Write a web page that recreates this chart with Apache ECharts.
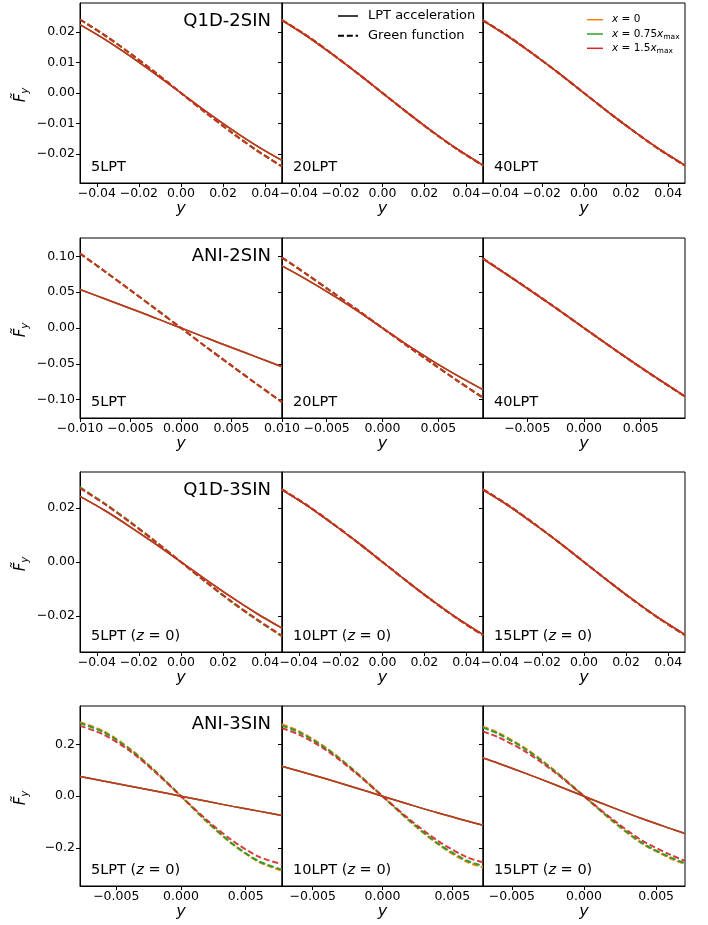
<!DOCTYPE html>
<html><head><meta charset="utf-8">
<script src="https://cdn.jsdelivr.net/npm/echarts@6/dist/echarts.min.js"></script>
<style>html,body{margin:0;padding:0;background:#fff}#c{width:708px;height:925px}</style>
</head><body><div id="c"></div>
<script>
// ---------------- DATA ----------------
const COLORS = ['#ff7f0e', '#2ca02c', '#d62728'];
const LINE_OPACITY = [1, 1, 0.9];
const LEGEND_STYLE = ['LPT acceleration', 'Green function'];

// Row 1: Q1D-2SIN  (y samples)
const yR1 = [-0.048, -0.036, -0.024, -0.012, 0, 0.012, 0.024, 0.036, 0.048];
const q1d2_5_lpt  = [0.0224, 0.0175, 0.0120, 0.0061, 0, -0.0061, -0.0119, -0.0173, -0.0221];
const q1d2_5_gf   = [0.0241, 0.0188, 0.0129, 0.0066, 0, -0.0066, -0.0129, -0.0188, -0.0241];
const q1d2_20_lpt = [0.0238, 0.0186, 0.0127, 0.0065, 0, -0.0065, -0.0127, -0.0185, -0.0237];
const q1d2_20_gf  = [0.0239, 0.0187, 0.0128, 0.0065, 0, -0.0065, -0.0128, -0.0186, -0.0238];
const q1d2_40_lpt = [0.0237, 0.0185, 0.0127, 0.0065, 0, -0.0065, -0.0127, -0.0185, -0.0237];
const q1d2_40_gf  = [0.0238, 0.0186, 0.0127, 0.0065, 0, -0.0065, -0.0127, -0.0186, -0.0238];

// Row 2: ANI-2SIN
const yR2a = [-0.010, -0.0075, -0.005, -0.0025, 0, 0.0025, 0.005, 0.0075, 0.010];
const yR2b = [-0.009, -0.00675, -0.0045, -0.00225, 0, 0.00225, 0.0045, 0.00675, 0.009];
const yR2c = [-0.0089, -0.006, -0.003, 0, 0.003, 0.006, 0.0089];
const ani2_5_lpt  = [0.0536, 0.0405, 0.0272, 0.0137, 0, -0.0137, -0.0272, -0.0406, -0.0540];
const ani2_5_gf   = [0.1039, 0.0785, 0.0527, 0.0265, 0, -0.0265, -0.0525, -0.0782, -0.1034];
const ani2_20_lpt = [0.0866, 0.0672, 0.0463, 0.0240, 0, -0.0240, -0.0462, -0.0668, -0.0860];
const ani2_20_gf  = [0.0983, 0.0745, 0.0500, 0.0252, 0, -0.0252, -0.0497, -0.0740, -0.0972];
const ani2_40_lpt = [0.0965, 0.0660, 0.0335, 0, -0.0333, -0.0655, -0.0954];
const ani2_40_gf  = [0.0969, 0.0662, 0.0336, 0, -0.0334, -0.0657, -0.0956];

// Row 3: Q1D-3SIN
const yR3 = [-0.048, -0.036, -0.024, -0.012, 0, 0.012, 0.024, 0.036, 0.048];
const q1d3_5_lpt    = [0.0242, 0.0189, 0.0129, 0.0066, 0, -0.0066, -0.0130, -0.0190, -0.0244];
const q1d3_5_gf     = [0.0275, 0.0214, 0.0147, 0.0075, 0, -0.0075, -0.0147, -0.0213, -0.0274];
const q1d3_5_gf_red = [0.0272, 0.0212, 0.0145, 0.0074, 0, -0.0074, -0.0145, -0.0211, -0.0272];
const q1d3_10_lpt   = [0.0266, 0.0208, 0.0142, 0.0073, 0, -0.0073, -0.0143, -0.0209, -0.0268];
const q1d3_10_gf    = [0.0268, 0.0209, 0.0143, 0.0073, 0, -0.0073, -0.0144, -0.0210, -0.0270];
const q1d3_15_lpt   = [0.0266, 0.0208, 0.0142, 0.0073, 0, -0.0073, -0.0143, -0.0209, -0.0268];
const q1d3_15_gf    = [0.0268, 0.0209, 0.0143, 0.0073, 0, -0.0073, -0.0144, -0.0210, -0.0270];

// Row 4: ANI-3SIN (three x positions: 0, 0.75xmax, 1.5xmax)
const yR4a = [-0.0078, -0.006, -0.004, -0.002, 0, 0.002, 0.004, 0.006, 0.0078];
const yR4b = [-0.0072, -0.006, -0.004, -0.002, 0, 0.002, 0.004, 0.006, 0.0072];
const yR4c = [-0.0070, -0.006, -0.004, -0.002, 0, 0.002, 0.004, 0.006, 0.0070];
const ani3_5_lpt   = [0.076, 0.0585, 0.0395, 0.020, 0, -0.0198, -0.0392, -0.0575, -0.074];
const ani3_5_gf_o  = [0.285, 0.251, 0.185, 0.098, 0, -0.099, -0.186, -0.253, -0.287];
const ani3_5_gf_g  = [0.281, 0.247, 0.182, 0.096, 0, -0.097, -0.184, -0.250, -0.283];
const ani3_5_gf_r  = [0.271, 0.238, 0.176, 0.093, 0, -0.092, -0.172, -0.233, -0.262];
const ani3_10_lpt  = [0.115, 0.097, 0.066, 0.0335, 0, -0.033, -0.065, -0.0945, -0.112];
const ani3_10_gf_o = [0.277, 0.251, 0.185, 0.098, 0, -0.099, -0.186, -0.252, -0.274];
const ani3_10_gf_g = [0.272, 0.247, 0.182, 0.096, 0, -0.097, -0.183, -0.247, -0.268];
const ani3_10_gf_r = [0.262, 0.238, 0.176, 0.093, 0, -0.092, -0.173, -0.234, -0.255];
const ani3_15_lpt  = [0.147, 0.128, 0.087, 0.044, 0, -0.044, -0.086, -0.125, -0.144];
const ani3_15_gf_o = [0.268, 0.246, 0.182, 0.097, 0, -0.097, -0.182, -0.240, -0.262];
const ani3_15_gf_g = [0.264, 0.242, 0.179, 0.095, 0, -0.095, -0.179, -0.236, -0.258];
const ani3_15_gf_r = [0.249, 0.229, 0.170, 0.091, 0, -0.090, -0.170, -0.226, -0.249];

// Tick values
const xTicksWide = [-0.04, -0.02, 0, 0.02, 0.04];
const xTicksR2a = [-0.010, -0.005, 0, 0.005, 0.010];
const xTicksNarrow = [-0.005, 0, 0.005];
const yTicksR1 = [-0.02, -0.01, 0, 0.01, 0.02];
const yTicksR2 = [-0.10, -0.05, 0, 0.05, 0.10];
const yTicksR3 = [-0.02, 0, 0.02];
const yTicksR4 = [-0.2, 0, 0.2];

const rowTitles = ['Q1D-2SIN', 'ANI-2SIN', 'Q1D-3SIN', 'ANI-3SIN'];

// ---------------- LAYOUT ----------------
const rowTop = [3, 238, 472, 706];
const rowH = 180;
const colLeft = [80, 282, 483];
const colW = [202, 201, 202];

const rows = [
  { yMin: -0.0295, yMax: 0.0295, yTicks: yTicksR1, yd: 2, panels: [
    { xs: yR1, xr: [-0.048, 0.048], xt: xTicksWide, xd: 2, lpt: [q1d2_5_lpt, q1d2_5_lpt, q1d2_5_lpt], gf: [q1d2_5_gf, q1d2_5_gf, q1d2_5_gf], label: '5LPT' },
    { xs: yR1, xr: [-0.048, 0.048], xt: xTicksWide, xd: 2, lpt: [q1d2_20_lpt, q1d2_20_lpt, q1d2_20_lpt], gf: [q1d2_20_gf, q1d2_20_gf, q1d2_20_gf], label: '20LPT' },
    { xs: yR1, xr: [-0.048, 0.048], xt: xTicksWide, xd: 2, lpt: [q1d2_40_lpt, q1d2_40_lpt, q1d2_40_lpt], gf: [q1d2_40_gf, q1d2_40_gf, q1d2_40_gf], label: '40LPT' } ] },
  { yMin: -0.1255, yMax: 0.1255, yTicks: yTicksR2, yd: 2, panels: [
    { xs: yR2a, xr: [-0.010, 0.010], xt: xTicksR2a, xd: 3, lpt: [ani2_5_lpt, ani2_5_lpt, ani2_5_lpt], gf: [ani2_5_gf, ani2_5_gf, ani2_5_gf], label: '5LPT' },
    { xs: yR2b, xr: [-0.009, 0.009], xt: xTicksNarrow, xd: 3, lpt: [ani2_20_lpt, ani2_20_lpt, ani2_20_lpt], gf: [ani2_20_gf, ani2_20_gf, ani2_20_gf], label: '20LPT' },
    { xs: yR2c, xr: [-0.0089, 0.0089], xt: xTicksNarrow, xd: 3, lpt: [ani2_40_lpt, ani2_40_lpt, ani2_40_lpt], gf: [ani2_40_gf, ani2_40_gf, ani2_40_gf], label: '40LPT' } ] },
  { yMin: -0.0332, yMax: 0.0332, yTicks: yTicksR3, yd: 2, panels: [
    { xs: yR3, xr: [-0.048, 0.048], xt: xTicksWide, xd: 2, lpt: [q1d3_5_lpt, q1d3_5_lpt, q1d3_5_lpt], gf: [q1d3_5_gf, q1d3_5_gf, q1d3_5_gf_red], label: '5LPT', z: true },
    { xs: yR3, xr: [-0.048, 0.048], xt: xTicksWide, xd: 2, lpt: [q1d3_10_lpt, q1d3_10_lpt, q1d3_10_lpt], gf: [q1d3_10_gf, q1d3_10_gf, q1d3_10_gf], label: '10LPT', z: true },
    { xs: yR3, xr: [-0.048, 0.048], xt: xTicksWide, xd: 2, lpt: [q1d3_15_lpt, q1d3_15_lpt, q1d3_15_lpt], gf: [q1d3_15_gf, q1d3_15_gf, q1d3_15_gf], label: '15LPT', z: true } ] },
  { yMin: -0.346, yMax: 0.3475, yTicks: yTicksR4, yd: 1, panels: [
    { xs: yR4a, xr: [-0.0078, 0.0078], xt: xTicksNarrow, xd: 3, lpt: [ani3_5_lpt, ani3_5_lpt, ani3_5_lpt], gf: [ani3_5_gf_o, ani3_5_gf_g, ani3_5_gf_r], label: '5LPT', z: true },
    { xs: yR4b, xr: [-0.0072, 0.0072], xt: xTicksNarrow, xd: 3, lpt: [ani3_10_lpt, ani3_10_lpt, ani3_10_lpt], gf: [ani3_10_gf_o, ani3_10_gf_g, ani3_10_gf_r], label: '10LPT', z: true },
    { xs: yR4c, xr: [-0.0070, 0.0070], xt: xTicksNarrow, xd: 3, lpt: [ani3_15_lpt, ani3_15_lpt, ani3_15_lpt], gf: [ani3_15_gf_o, ani3_15_gf_g, ani3_15_gf_r], label: '15LPT', z: true } ] }
];

const FONT = 'DejaVu Sans';
function fmt(v, d) {
  const s = Math.abs(v).toFixed(d);
  return (v < -1e-12 ? '\u2212' : '') + s;
}
const mctx = document.createElement('canvas').getContext('2d');
function fontStr(size, it) { return (it ? 'italic ' : '') + size + 'px "DejaVu Sans"'; }
function measure(t, size, it) { mctx.font = fontStr(size, it); return mctx.measureText(t).width; }

const grid = [], xAxis = [], yAxis = [], series = [], graphic = [];
let idx = 0;
rows.forEach((row, r) => {
  row.panels.forEach((p, c) => {
    grid.push({ left: colLeft[c], top: rowTop[r], width: colW[c], height: rowH,
      show: true, borderColor: '#000', borderWidth: 1, backgroundColor: 'transparent', containLabel: false });
    xAxis.push({ type: 'value', gridIndex: idx, min: p.xr[0], max: p.xr[1],
      axisLine: { show: true, onZero: false, lineStyle: { color: '#000', width: 1 } },
      axisTick: { show: true, inside: false, length: 4, customValues: p.xt, lineStyle: { color: '#000' } },
      axisLabel: { show: true, customValues: p.xt, margin: 4, fontSize: 12.5, fontFamily: FONT, color: '#000',
        formatter: (v) => fmt(v, p.xd) },
      splitLine: { show: false },
      name: 'y', nameLocation: 'middle', nameGap: 17,
      nameTextStyle: { fontSize: 16, fontStyle: 'italic', fontFamily: FONT, color: '#000' } });
    yAxis.push({ type: 'value', gridIndex: idx, min: row.yMin, max: row.yMax,
      axisLine: { show: true, onZero: false, lineStyle: { color: '#000', width: 1 } },
      axisTick: { show: true, inside: false, length: 4, customValues: row.yTicks, lineStyle: { color: '#000' } },
      axisLabel: { show: c === 0, customValues: row.yTicks, margin: 5, fontSize: 12.5, fontFamily: FONT, color: '#000',
        formatter: (v) => fmt(v, row.yd) },
      splitLine: { show: false } });
    for (let k = 0; k < 3; k++) {
      series.push({ type: 'line', xAxisIndex: idx, yAxisIndex: idx, symbol: 'none', smooth: 0.3, silent: true,
        data: p.xs.map((x, i) => [x, p.lpt[k][i]]),
        lineStyle: { color: COLORS[k], width: 1.5, opacity: LINE_OPACITY[k], type: 'solid' } });
      series.push({ type: 'line', xAxisIndex: idx, yAxisIndex: idx, symbol: 'none', smooth: 0.3, silent: true,
        data: p.xs.map((x, i) => [x, p.gf[k][i]]),
        lineStyle: { color: COLORS[k], width: 2, opacity: LINE_OPACITY[k], type: [6, 2.8] } });
    }
    // bottom-left label
    graphic.push({ type: 'text', x: colLeft[c] + 11, y: rowTop[r] + 164, silent: true,
      style: { text: p.z ? p.label + ' ({i|z} = 0)' : p.label, font: '14.5px "DejaVu Sans"', fill: '#000',
        align: 'left', verticalAlign: 'middle',
        rich: { i: { fontStyle: 'italic', fontSize: 14.5, fontFamily: FONT } } } });
    idx++;
  });
  // row title
  graphic.push({ type: 'text', x: 271, y: rowTop[r] + 18.7, silent: true,
    style: { text: rowTitles[r], font: '18px "DejaVu Sans"', fill: '#000', align: 'right', verticalAlign: 'middle' } });
  // y axis label  F~_y (rotated)
  const wF = measure('F', 15, true);
  graphic.push({ type: 'group', x: 21, y: rowTop[r] + 92, rotation: Math.PI / 2, silent: true, children: [
    { type: 'text', x: -(wF + 6) / 2, y: 0, style: { text: 'F\u0303', font: fontStr(15, true), fill: '#000', align: 'left', verticalAlign: 'middle' } },
    { type: 'text', x: -(wF + 6) / 2 + wF, y: 4, style: { text: 'y', font: fontStr(10.5, true), fill: '#000', align: 'left', verticalAlign: 'middle' } }
  ] });
});

// legend: line style (col 2, row 1)
[[16, 'solid'], [35.7, 'dash']].forEach((e, i) => {
  graphic.push({ type: 'line', silent: true, shape: { x1: 338, y1: e[0], x2: 358, y2: e[0] },
    style: { stroke: '#000', lineWidth: i ? 2 : 1.5, lineDash: i ? [6, 2.8] : null } });
  graphic.push({ type: 'text', silent: true, x: 368, y: e[0],
    style: { text: LEGEND_STYLE[i], font: '13px "DejaVu Sans"', fill: '#000', align: 'left', verticalAlign: 'middle' } });
});
// legend: x positions (col 3, row 1)
const legX = [
  [['x', 1], [' = 0', 0]],
  [['x', 1], [' = 0.75', 0], ['x', 1], ['max', 2]],
  [['x', 1], [' = 1.5', 0], ['x', 1], ['max', 2]]
];
[19.7, 34, 48.3].forEach((yy, i) => {
  graphic.push({ type: 'line', silent: true, shape: { x1: 587, y1: yy, x2: 603, y2: yy },
    style: { stroke: COLORS[i], lineWidth: 1.5 } });
  let xx = 612;
  legX[i].forEach(seg => {
    const size = seg[1] === 2 ? 7.5 : 10.5;
    const it = seg[1] === 1;
    graphic.push({ type: 'text', silent: true, x: xx, y: yy + (seg[1] === 2 ? 3 : 0),
      style: { text: seg[0], font: fontStr(size, it), fill: '#000', align: 'left', verticalAlign: 'middle' } });
    xx += measure(seg[0], size, it);
  });
});

const chart = echarts.init(document.getElementById('c'), null, { renderer: 'canvas' });
chart.setOption({ animation: false, backgroundColor: '#fff', grid, xAxis, yAxis, series, graphic });
</script></body></html>
